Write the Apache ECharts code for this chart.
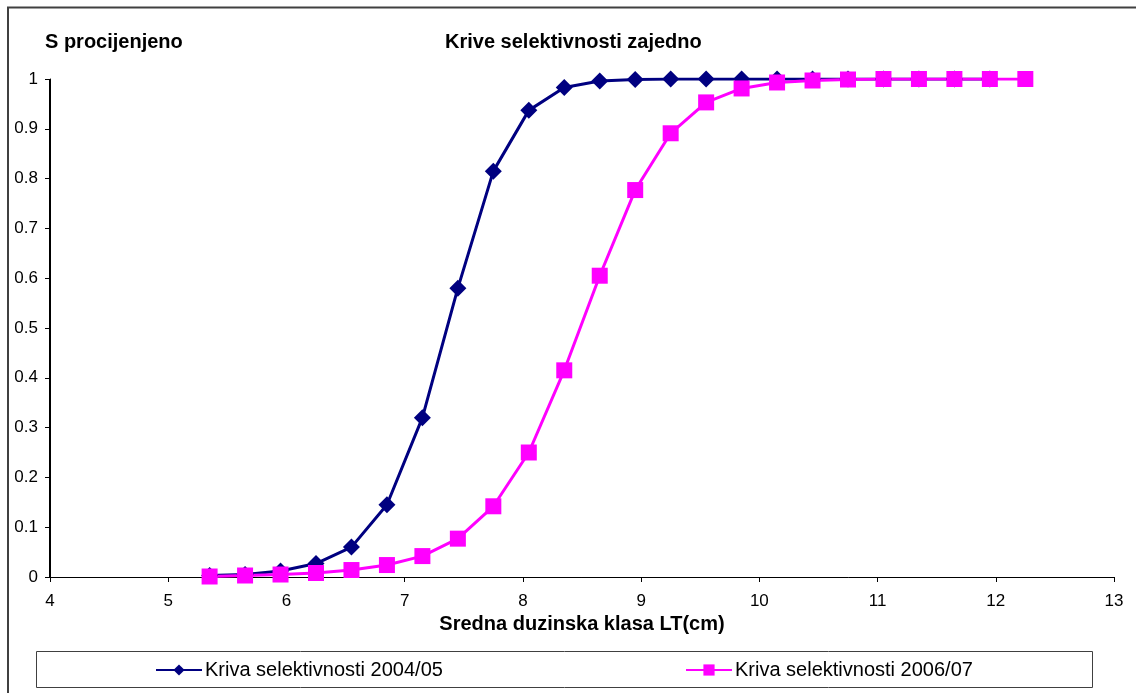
<!DOCTYPE html>
<html>
<head>
<meta charset="utf-8">
<script src="https://cdn.jsdelivr.net/npm/echarts@6/dist/echarts.min.js"></script>
<style>html,body{margin:0;padding:0;background:#fff}#c{width:1136px;height:693px}</style>
</head>
<body>
<div id="c"></div>
<script>
var lengths = [5.35,5.65,5.95,6.25,6.55,6.85,7.15,7.45,7.75,8.05,8.35,8.65,8.95,9.25,9.55,9.85,10.15,10.45,10.75,11.05,11.35,11.65,11.95,12.25];
var sel2004 = [0.003,0.005,0.012,0.027,0.06,0.145,0.32,0.58,0.815,0.937,0.983,0.996,0.999,1,1,1,1,1,1,1,1,1,1];
var sel2006 = [0.001,0.003,0.005,0.008,0.014,0.024,0.042,0.077,0.142,0.25,0.415,0.605,0.777,0.891,0.953,0.981,0.993,0.997,0.999,1,1,1,1,1];
var seriesNames = ['Kriva selektivnosti 2004/05','Kriva selektivnosti 2006/07'];

function pairs(xs, ys){ return ys.map(function(v,i){ return [xs[i], v]; }); }

var font = 'Liberation Sans, Arial, sans-serif';
var chart = echarts.init(document.getElementById('c'));
var baseGraphic = [
  {type:'rect', shape:{x:8, y:7.5, width:1140, height:700}, style:{fill:'none', stroke:'#404040', lineWidth:2}, silent:true},
  {type:'rect', shape:{x:36.5, y:651.5, width:1056, height:36}, style:{fill:'none', stroke:'#404040', lineWidth:1}, silent:true}
];
chart.setOption({
  animation: false,
  title: [
    {text: 'S procijenjeno', left: 40, top: 27, textStyle:{fontFamily: font, fontSize: 20, fontWeight:'bold', color:'#000'}},
    {text: 'Krive selektivnosti zajedno', left: 440, top: 27, textStyle:{fontFamily: font, fontSize: 20, fontWeight:'bold', color:'#000'}}
  ],
  graphic: baseGraphic,
  legend: [
    {data:[seriesNames[0]], left: 150, top: 655, itemWidth: 46, itemHeight: 14, itemGap: 5, textStyle:{fontFamily: font, fontSize: 20, color:'#000', padding:[0,0,0,-2]}},
    {data:[seriesNames[1]], left: 680, top: 655, itemWidth: 46, itemHeight: 14, itemGap: 5, textStyle:{fontFamily: font, fontSize: 20, color:'#000', padding:[0,0,0,-2]}}
  ],
  grid: {left: 50, right: 22, top: 79, bottom: 116},
  xAxis: {
    type:'value', min:4, max:13, interval:1,
    name:'Sredna duzinska klasa LT(cm)', nameLocation:'middle', nameGap:31,
    nameTextStyle:{fontFamily: font, fontSize:20, fontWeight:'bold', color:'#000'},
    axisLine:{onZero:false, lineStyle:{color:'#000', width:1}},
    axisTick:{show:true, inside:false, length:5, lineStyle:{color:'#000'}},
    axisLabel:{fontFamily: font, fontSize:17, color:'#000', margin:16},
    splitLine:{show:false}
  },
  yAxis: {
    type:'value', min:0, max:1, interval:0.1, position:'left',
    axisLine:{show:true, onZero:false, lineStyle:{color:'#000', width:1}},
    axisTick:{show:true, inside:false, length:5, lineStyle:{color:'#000'}},
    axisLabel:{fontFamily: font, fontSize:17, color:'#000', margin:12, formatter:function(v){ return String(Math.round(v*10)/10); }},
    splitLine:{show:false}
  },
  series: [
    {name: seriesNames[0], type:'line', data: pairs(lengths, sel2004), symbol:'diamond', symbolSize:[17,17],
     itemStyle:{color:'#000080'}, lineStyle:{color:'#000080', width:3}},
    {name: seriesNames[1], type:'line', data: pairs(lengths, sel2006), symbol:'rect', symbolSize:16,
     itemStyle:{color:'#FF00FF'}, lineStyle:{color:'#FF00FF', width:3}}
  ]
});
// vertical axis line at the x-axis minimum, located through the chart's own scales
var yTop = chart.convertToPixel({gridIndex:0}, [4, 1]);
var yBot = chart.convertToPixel({gridIndex:0}, [4, 0]);
chart.setOption({graphic: baseGraphic.concat([
  {type:'line', shape:{x1:yTop[0], y1:yTop[1], x2:yBot[0], y2:yBot[1]}, style:{stroke:'#000', lineWidth:2}, silent:true, z:1}
])});
</script>
</body>
</html>
